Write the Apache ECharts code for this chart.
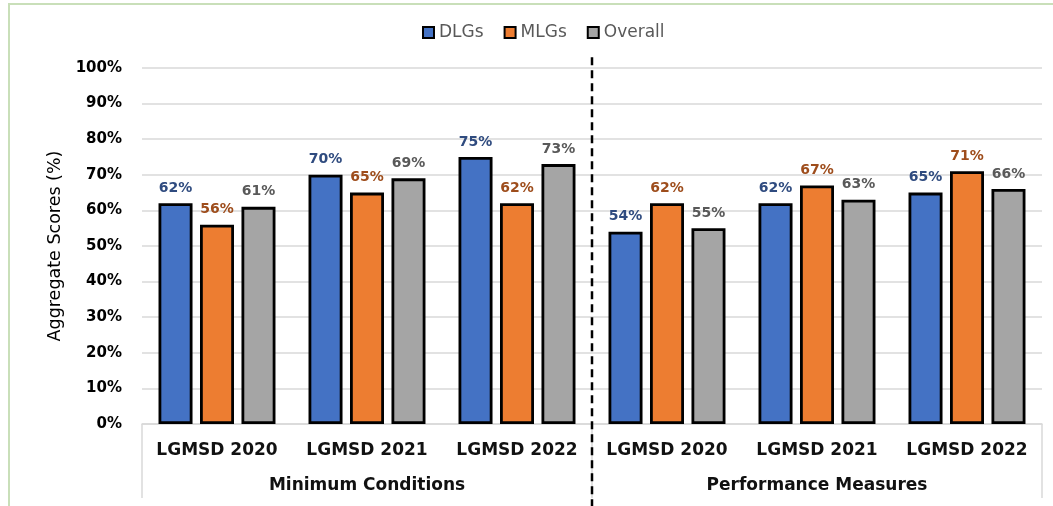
<!DOCTYPE html>
<html>
<head>
<meta charset="utf-8">
<script src="https://cdn.jsdelivr.net/npm/echarts@6/dist/echarts.min.js"></script>
<style>
  html, body { margin: 0; padding: 0; background: #fff; }
  #frame {
    position: absolute; left: 8px; top: 3px; width: 1045px; height: 503px;
    border-left: 2px solid #c9dfb9; border-top: 2px solid #c9dfb9;
    box-sizing: border-box;
  }
  #chart { position: absolute; left: 0; top: 0; width: 1053px; height: 506px; }
</style>
</head>
<body>
<div id="frame"></div>
<div id="chart"></div>
<script>
// Aggregate scores by assessment year, grouped by assessment area
const categories = ['LGMSD 2020', 'LGMSD 2021', 'LGMSD 2022', 'LGMSD 2020', 'LGMSD 2021', 'LGMSD 2022'];
const groups = ['Minimum Conditions', 'Performance Measures'];
const dlgs = [62, 70, 75, 54, 62, 65];
const mlgs = [56, 65, 62, 62, 67, 71];
const overall = [61, 69, 73, 55, 63, 66];
const yTicks = [0, 10, 20, 30, 40, 50, 60, 70, 80, 90, 100];

const chart = echarts.init(document.getElementById('chart'), null, { renderer: 'canvas' });

function barSeries(name, data, fill, labelColor) {
  return {
    name: name,
    type: 'bar',
    data: data,
    barWidth: 34,
    barGap: '22%',
    itemStyle: { color: fill, borderColor: '#000', borderWidth: 2.8 },
    label: {
      show: true,
      position: 'top',
      distance: 8,
      formatter: '{c}%',
      color: labelColor,
      fontFamily: 'DejaVu Sans',
      fontWeight: 'bold',
      fontSize: 14
    }
  };
}

chart.setOption({
  animation: false,
  textStyle: { fontFamily: 'DejaVu Sans' },
  legend: {
    top: 19,
    left: 417,
    icon: 'rect',
    itemWidth: 11,
    itemHeight: 11,
    itemGap: 20,
    textStyle: { color: '#595959', fontSize: 17, fontFamily: 'DejaVu Sans' },
    data: ['DLGs', 'MLGs', 'Overall']
  },
  grid: { left: 142, right: 11, top: 68, bottom: 82, containLabel: false },
  xAxis: [
    {
      type: 'category',
      data: categories,
      axisLine: { lineStyle: { color: '#d9d9d9', width: 1.5 } },
      axisTick: { show: false },
      axisLabel: { interval: 0, margin: 18, color: '#111', fontSize: 17, fontWeight: 'bold', fontFamily: 'DejaVu Sans' }
    },
    {
      type: 'category',
      data: groups,
      position: 'bottom',
      axisLine: { show: false },
      axisTick: { show: true, interval: 0, length: 74, lineStyle: { color: '#d9d9d9', width: 1.5 } },
      axisLabel: { interval: 0, margin: 53, color: '#111', fontSize: 17, fontWeight: 'bold', fontFamily: 'DejaVu Sans' }
    }
  ],
  yAxis: {
    type: 'value',
    min: 0,
    max: 100,
    interval: 10,
    name: 'Aggregate Scores (%)',
    nameLocation: 'middle',
    nameGap: 78,
    nameTextStyle: { color: '#000', fontSize: 17.5, fontFamily: 'DejaVu Sans' },
    axisLine: { show: false },
    axisTick: { show: false },
    axisLabel: {
      margin: 20,
      color: '#000',
      fontFamily: 'DejaVu Sans',
      fontWeight: 'bold',
      fontSize: 15,
      formatter: function (v) { return yTicks.indexOf(v) >= 0 ? v + '%' : ''; }
    },
    splitLine: { lineStyle: { color: '#d9d9d9', width: 1.5 } }
  },
  series: [
    barSeries('DLGs', dlgs, '#4472c4', '#2f4b7f'),
    barSeries('MLGs', mlgs, '#ed7d31', '#9e4d1c'),
    barSeries('Overall', overall, '#a5a5a5', '#595959')
  ]
});

// Dashed divider between the two assessment areas, placed from the axis scale
const xLeft = chart.convertToPixel({ xAxisIndex: 0 }, 2);
const xRight = chart.convertToPixel({ xAxisIndex: 0 }, 3);
const xMid = Math.round((xLeft + xRight) / 2);
const yTop = chart.convertToPixel({ yAxisIndex: 0 }, 103);
chart.setOption({
  graphic: [{
    type: 'line',
    z: 100,
    shape: { x1: xMid, y1: yTop, x2: xMid, y2: 506 },
    style: { stroke: '#000', lineWidth: 2.5, lineDash: [8, 5] }
  }]
});
</script>
</body>
</html>
